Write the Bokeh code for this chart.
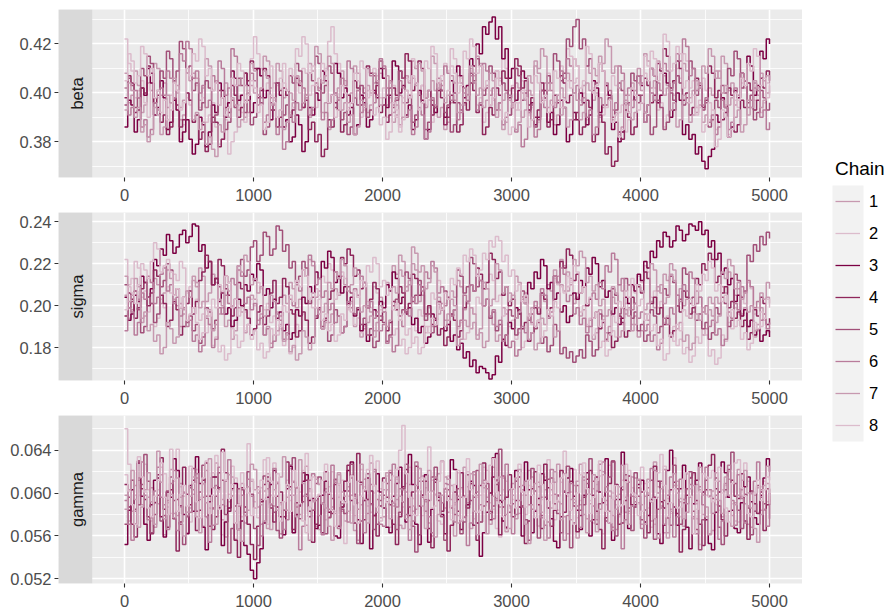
import math
from bokeh.plotting import figure
from bokeh.models import (Range1d, FixedTicker, PrintfTickFormatter, BoxAnnotation,
                          Label, Legend, LegendItem)
from bokeh.layouts import row, column
from bokeh.embed import file_html
from bokeh.resources import INLINE

# ---------------- data ----------------
# draws are recorded every 25 iterations, 0..5000
iterations = list(range(0, 5001, 25))
chain_labels = ["1", "2", "3", "4", "5", "6", "7", "8"]
chain_colors = ["#c799b0", "#dcbccc", "#7c0043", "#8f275b",
                "#a25079", "#b97c9b", "#c799b0", "#dcbccc"]
x_ticks = [0, 1000, 2000, 3000, 4000, 5000]
beta_ticks = [0.38, 0.40, 0.42]
sigma_ticks = [0.18, 0.20, 0.22, 0.24]
gamma_ticks = [0.052, 0.056, 0.060, 0.064]
param_names = ["beta", "sigma", "gamma"]

# beta and sigma draws are written in thousandths (408 -> 0.408)
beta_1 = [408,396,399,409,403,392,395,404,401,412,410,399,404,394,396,405,400,389,391,400,
          397,408,406,397,402,414,411,401,405,395,398,404,394,406,403,393,399,390,392,403,
          400,410,407,415,413,402,404,412,409,398,401,392,396,407,405,394,398,390,393,404,
          402,392,396,385,389,400,398,409,405,396,400,411,408,399,402,392,395,404,399,408,
          406,395,398,388,391,399,396,407,404,413,410,400,403,394,397,405,401,390,394,385,
          388,396,397,407,404,395,399,410,407,415,412,401,403,395,398,409,406,397,400,391,
          395,404,402,390,393,401,399,411,408,398,404,394,397,387,391,402,398,408,405,414,
          411,400,403,411,408,397,400,390,394,403,399,389,392,383,386,397,395,404,401,410,
          407,416,413,402,405,396,399,407,403,393,396,407,404,412,409,398,401,392,395,388,
          391,402,399,409,406,415,412,401,404,395,398,406,402,391,394,402,399,408,405,400,
          403]
beta_2 = [422,412,409,398,401,405,396,390,404,396,398,402,391,385,399,404,393,381,387,398,
          395,406,403,394,398,388,391,396,386,379,381,389,375,380,384,395,392,388,401,414,
          423,416,410,401,404,411,397,403,406,412,401,392,394,404,400,410,408,399,403,394,
          397,405,410,421,427,416,412,403,404,394,396,405,401,390,393,401,399,410,407,398,
          402,390,396,403,390,384,398,406,405,414,411,401,403,395,397,388,392,404,401,412,
          409,418,414,404,406,396,399,409,404,395,398,388,392,401,397,409,405,414,410,401,
          403,393,396,405,401,391,394,386,388,398,397,408,404,395,399,411,408,418,415,404,
          406,397,400,389,393,402,399,388,391,399,397,407,403,392,395,384,389,397,398,407,
          404,415,411,400,402,393,396,386,391,402,399,410,406,416,413,402,405,394,397,406,
          401,389,393,385,388,398,395,383,386,397,394,404,402,412,409,397,401,392,396,404,
          399]
beta_3 = [386,397,395,384,389,402,399,410,404,391,394,405,398,385,388,397,393,380,384,389,
          381,375,379,390,387,378,384,395,392,404,401,390,396,409,406,397,399,408,403,392,
          396,410,407,398,401,389,393,404,399,386,389,380,382,391,387,376,380,394,391,400,
          397,409,405,396,399,412,408,398,402,391,394,383,387,399,396,386,389,401,398,410,
          406,394,399,413,411,400,403,391,395,385,389,401,397,381,385,395,392,404,401,390,
          394,405,400,411,407,398,403,414,411,420,416,427,424,429,431,422,427,414,418,406,
          410,397,401,409,406,393,396,387,390,401,398,388,392,383,387,397,394,380,383,392,
          389,400,396,387,391,405,402,392,395,403,399,385,388,380,384,395,392,401,397,407,
          403,392,395,410,407,396,399,408,404,390,393,400,397,383,387,381,383,375,378,372,
          369,374,377,391,388,398,394,382,386,401,398,408,405,415,411,399,403,417,414,422,
          420]
beta_4 = [398,407,404,392,393,402,400,411,408,396,399,388,391,383,386,398,395,386,389,400,
          397,388,391,381,384,376,379,390,388,378,381,394,392,403,399,390,394,408,405,413,
          410,398,401,410,407,393,396,386,390,402,399,390,393,406,403,394,397,385,388,380,
          383,374,377,389,386,396,393,384,387,399,396,405,402,395,398,411,408,400,403,392,
          395,388,391,402,399,409,406,416,413,401,404,413,410,398,401,391,394,401,398,387,
          390,399,396,384,387,396,393,404,401,392,395,383,386,394,391,402,399,409,406,398,
          402,414,411,402,405,395,398,390,393,404,401,386,389,399,396,407,404,396,399,389,
          392,383,386,397,394,380,383,391,388,375,378,370,372,384,381,393,390,383,386,399,
          396,406,403,396,399,412,409,418,415,402,405,413,410,397,400,391,394,406,403,394,
          397,411,408,398,401,389,392,402,399,384,387,397,394,404,401,393,397,406,402,409,
          405]
beta_5 = [395,406,403,394,398,410,407,415,412,398,401,409,406,417,414,405,409,421,418,408,
          411,401,404,393,396,405,402,388,391,401,398,385,388,397,394,406,403,392,397,387,
          390,399,396,383,386,396,393,404,401,391,395,407,404,412,409,396,399,408,405,415,
          412,400,403,411,408,394,397,389,392,383,386,398,395,403,400,390,393,407,404,413,
          410,399,402,394,397,409,406,396,399,388,391,399,396,385,388,397,394,404,401,392,
          395,384,387,396,393,402,399,408,405,414,411,399,402,411,408,393,396,404,401,391,
          394,410,407,397,400,392,395,386,389,401,398,407,404,416,413,405,408,422,419,427,
          430,418,422,411,414,401,404,412,409,395,398,390,393,404,401,393,396,408,405,396,
          399,388,391,383,386,397,394,385,388,400,397,407,404,395,398,413,410,399,402,393,
          396,386,389,397,394,403,400,410,407,417,414,402,405,396,399,389,392,401,398,393,
          396]
beta_6 = [402,391,394,401,398,386,389,382,385,396,393,402,399,409,406,398,401,416,413,421,
          418,406,409,400,403,394,397,407,404,413,410,399,402,418,415,403,406,397,400,408,
          405,395,398,388,391,398,395,383,386,377,380,391,388,396,393,402,399,391,394,404,
          401,389,392,386,389,400,397,406,403,413,410,398,401,392,395,410,407,396,399,414,
          411,402,405,395,398,405,402,390,393,383,386,394,391,381,384,398,395,406,403,411,
          408,397,400,389,392,400,397,407,404,393,396,412,409,399,402,393,396,387,390,399,
          396,384,387,378,381,392,389,382,385,397,394,404,401,394,397,409,406,414,411,400,
          403,395,398,390,393,383,386,398,395,404,401,393,396,411,408,399,402,394,397,407,
          404,388,391,400,397,404,401,412,409,401,404,416,413,422,419,407,410,401,404,395,
          398,388,391,383,386,397,394,385,388,402,399,408,405,394,397,404,401,390,393,385,
          388]
beta_7 = [393,404,401,390,394,384,387,380,383,394,391,383,386,399,396,406,403,394,397,408,
          405,389,392,385,388,379,382,377,374,387,384,393,390,398,395,386,389,403,400,412,
          409,399,402,409,406,395,398,390,393,385,388,400,397,407,404,396,399,412,409,419,
          416,404,407,415,412,399,402,393,396,388,391,383,386,397,394,403,400,408,405,395,
          398,407,404,392,395,387,390,401,398,406,403,412,409,398,401,415,412,402,405,396,
          399,407,404,392,395,402,399,411,408,399,402,394,397,408,405,390,393,385,388,397,
          394,385,388,400,397,407,404,413,410,418,415,401,404,396,399,391,394,386,389,400,
          397,389,392,404,401,410,407,415,412,422,419,408,411,402,405,396,399,389,392,404,
          401,392,395,410,407,413,410,399,402,393,396,386,389,399,396,388,391,405,402,411,
          408,418,415,406,409,400,403,395,398,390,393,384,387,397,394,405,402,394,397,407,
          404]
beta_8 = [405,416,413,404,407,419,416,407,410,398,401,392,397,389,393,404,401,393,396,410,
          407,416,413,422,419,407,410,401,404,395,398,391,394,406,403,412,409,396,399,405,
          402,392,395,385,388,399,396,390,393,404,401,410,407,418,415,423,420,408,411,403,
          406,412,409,396,399,390,393,403,400,393,396,408,405,413,410,398,401,391,394,387,
          390,381,384,396,393,386,389,401,398,407,404,393,396,413,410,419,416,404,407,398,
          401,411,408,400,403,417,414,422,419,408,411,402,405,395,398,406,403,389,392,383,
          386,396,393,401,398,386,389,407,404,396,399,392,395,409,406,394,397,405,402,414,
          411,402,405,419,416,400,403,412,409,394,397,388,391,382,385,395,392,402,399,393,
          396,408,405,417,414,405,408,424,421,409,412,419,416,402,405,396,399,391,394,384,
          387,396,393,378,381,393,390,382,385,400,397,406,403,412,409,418,415,403,406,398,
          401]

sigma_1 = [205,194,198,207,203,192,195,204,201,213,210,201,206,217,213,203,200,190,196,207,
           204,212,209,218,214,202,206,215,211,196,199,190,193,184,188,199,197,187,191,205,
           203,193,196,186,190,182,186,197,195,205,201,211,208,199,203,217,214,222,219,204,
           207,197,201,192,196,208,205,214,210,199,202,190,194,185,189,200,197,188,192,204,
           201,211,208,219,215,224,221,209,212,220,217,202,205,195,199,190,193,204,201,193,
           196,207,204,212,209,198,201,189,192,184,187,180,183,194,191,183,186,199,196,206,
           203,214,211,203,206,196,199,190,193,205,202,210,207,217,214,222,219,207,210,201,
           204,195,198,190,193,184,187,198,195,187,190,204,201,210,207,196,199,191,195,185,
           188,196,193,202,199,209,206,215,212,220,217,205,208,200,203,194,197,207,204,186,
           189,198,195,204,201,209,206,216,213,205,208,196,199,190,193,185,188,199,196,204,
           201]
sigma_2 = [222,210,213,221,218,204,207,197,201,190,194,203,199,209,206,215,212,221,218,206,
           209,199,203,193,196,187,191,181,185,178,181,174,177,189,186,180,183,197,194,203,
           200,211,208,198,201,192,195,186,189,181,184,177,180,191,188,196,193,202,199,208,
           205,214,211,220,217,203,206,216,213,198,201,191,194,187,190,202,199,209,206,198,
           201,190,193,186,189,181,184,177,180,191,188,198,195,187,190,206,203,212,209,201,
           204,195,198,189,192,184,187,199,196,204,201,211,208,215,212,202,205,195,198,190,
           193,184,187,180,183,194,191,200,197,206,203,196,199,213,210,221,218,209,212,203,
           206,197,200,191,194,186,189,180,183,176,179,188,185,194,191,201,198,209,206,214,
           211,219,216,204,207,199,202,192,195,187,190,181,184,177,180,173,176,185,182,189,
           186,176,179,172,175,186,183,192,189,199,196,204,201,211,208,196,199,190,193,187,
           190]
sigma_3 = [204,193,196,205,202,214,211,204,208,222,219,227,224,234,231,225,228,234,236,230,
           233,239,238,226,229,218,221,210,213,202,206,196,199,190,193,203,200,210,207,215,
           212,220,217,205,208,199,203,194,197,188,191,184,187,198,195,204,201,209,206,216,
           213,221,218,226,223,211,214,206,209,201,204,195,198,188,191,183,186,198,195,202,
           199,210,207,216,213,201,204,196,199,191,194,187,190,182,185,196,193,201,198,188,
           191,183,186,179,182,175,178,171,174,168,171,170,168,165,167,176,173,184,181,192,
           189,199,196,204,201,211,208,216,213,222,219,208,211,203,206,197,200,192,195,206,
           203,212,209,218,215,223,220,209,212,204,207,196,199,191,194,204,201,210,207,215,
           212,221,218,226,223,231,228,235,233,228,231,238,236,231,234,239,238,236,240,234,
           236,228,231,222,225,215,218,210,213,202,205,195,198,190,193,186,189,183,186,188,
           185]
sigma_4 = [195,206,203,194,199,208,211,200,206,217,214,205,201,190,193,202,198,186,190,201,
           207,196,202,212,216,224,221,210,213,222,219,208,205,195,199,211,208,198,194,186,
           189,197,200,191,195,206,212,201,204,213,209,198,196,185,188,197,193,182,185,194,
           199,189,194,203,207,216,213,223,220,227,224,214,217,208,211,199,203,211,208,193,
           197,188,192,202,198,209,206,197,201,215,213,205,209,196,200,191,194,186,189,181,
           185,196,193,185,188,199,202,210,207,218,215,208,211,225,222,213,216,205,209,200,
           203,194,198,189,192,183,187,199,196,206,203,195,199,214,211,221,218,227,224,212,
           215,206,209,200,203,194,197,189,192,183,186,180,183,195,192,185,188,204,201,209,
           206,216,213,201,204,196,199,191,194,185,188,200,197,207,204,196,199,213,210,220,
           217,225,222,211,214,206,209,199,202,194,197,190,193,184,187,198,195,204,201,191,
           194]
sigma_5 = [210,199,202,207,198,187,190,204,201,192,196,209,212,220,217,205,208,199,204,192,
           195,188,191,182,185,199,197,189,193,209,206,214,211,200,203,219,222,214,217,228,
           231,221,224,235,233,224,227,238,236,226,229,218,221,211,214,221,218,201,204,195,
           198,190,193,183,186,198,195,187,190,209,206,196,199,191,194,186,189,180,183,195,
           192,183,186,200,203,195,198,216,213,202,205,212,209,193,196,187,190,202,199,207,
           204,195,198,217,214,206,209,223,220,209,212,200,203,194,197,188,191,183,186,198,
           195,186,189,207,204,193,196,189,192,182,185,178,181,191,188,177,180,175,178,173,
           176,179,175,186,183,176,179,196,193,184,187,208,205,196,199,213,210,194,197,188,
           191,183,186,198,195,187,190,208,205,214,211,200,203,218,215,201,204,193,196,189,
           192,184,187,199,196,204,201,190,193,215,212,204,207,224,221,229,226,233,229,235,
           232]
sigma_6 = [188,199,197,186,192,206,203,214,211,201,204,215,218,207,210,201,204,195,199,190,
           193,183,186,178,181,194,191,180,184,199,196,205,201,213,210,217,214,201,204,198,
           201,191,194,186,189,180,183,196,193,184,187,203,200,210,207,217,214,224,221,210,
           213,204,207,198,201,192,195,187,190,202,199,208,205,214,211,199,202,194,197,188,
           191,182,185,178,181,193,190,198,195,204,201,210,207,216,213,221,218,206,209,200,
           203,195,198,190,193,205,202,210,207,215,212,200,203,195,198,190,193,183,186,180,
           183,176,179,190,187,195,192,202,199,208,205,194,197,214,211,218,215,202,205,196,
           199,191,194,187,190,206,203,211,208,219,216,225,222,210,213,207,210,198,201,194,
           197,188,191,183,186,179,182,194,191,199,196,205,202,210,207,216,213,201,204,197,
           200,190,193,186,189,181,184,197,194,201,198,209,206,212,209,199,202,193,196,189,
           192]
sigma_7 = [214,202,205,213,209,194,197,188,191,183,186,177,180,192,189,182,185,201,198,207,
           204,214,211,199,202,195,198,188,191,203,200,210,207,200,203,219,216,224,221,210,
           213,206,209,195,198,205,202,188,191,183,186,178,181,174,177,188,185,179,182,199,
           196,189,192,211,208,216,213,222,219,207,210,218,215,197,200,192,195,185,188,200,
           197,190,193,209,206,217,214,207,210,228,225,216,219,208,211,219,216,196,199,190,
           193,203,200,181,184,193,190,199,196,186,189,211,208,200,203,220,217,206,209,202,
           205,194,197,204,201,184,187,179,182,194,191,198,195,185,188,210,207,216,213,222,
           219,226,223,211,214,207,210,200,203,195,198,209,206,185,188,198,195,188,191,210,
           207,198,201,220,217,207,210,201,204,215,212,189,192,183,186,179,182,196,193,199,
           196,204,201,192,195,216,213,222,219,208,211,203,206,197,200,188,191,206,203,211,
           208]
sigma_8 = [198,209,206,201,210,220,217,213,221,230,227,216,219,222,216,205,208,199,204,193,
           196,199,192,184,187,198,195,203,199,210,207,214,211,199,203,195,199,188,191,184,
           188,179,182,175,178,189,186,193,190,200,197,205,202,212,209,217,214,203,206,199,
           203,193,196,188,191,183,186,196,193,200,197,207,204,212,209,219,216,223,220,209,
           212,205,208,198,201,193,196,186,189,182,185,177,180,190,187,194,191,201,198,206,
           203,213,210,218,215,224,221,227,224,214,217,225,222,231,228,233,231,221,224,214,
           217,207,210,202,205,195,198,190,193,185,188,198,195,202,199,209,206,214,211,219,
           216,206,209,201,204,194,197,190,193,183,186,195,192,202,199,207,204,213,210,200,
           203,193,196,188,191,181,184,174,177,186,183,191,188,198,195,203,200,210,207,215,
           212,221,218,207,210,202,205,195,198,190,193,184,187,179,182,192,189,197,194,203,
           199]

# gamma draws are written in ten-thousandths (598 -> 0.0598)
gamma_1 = [598,574,583,607,612,589,571,596,605,568,590,617,561,593,622,581,579,609,601,563,
           586,599,614,577,569,621,597,585,628,603,575,559,592,615,557,588,609,572,584,611,
           603,587,571,602,618,566,588,610,562,584,596,623,611,579,580,597,625,604,593,569,
           566,591,604,578,587,612,619,583,574,606,598,565,556,589,613,594,589,620,602,577,
           578,603,621,588,594,570,567,601,608,583,585,614,616,592,572,560,599,618,630,586,
           582,607,560,579,605,624,591,567,617,598,573,609,596,571,624,593,587,614,564,588,
           609,576,581,603,598,621,615,584,569,596,603,573,586,610,627,590,578,562,594,607,
           558,589,612,576,590,604,575,621,620,593,597,568,566,599,606,582,583,615,614,591,
           571,597,600,574,629,606,588,563,563,585,607,611,592,569,618,596,576,608,603,580,
           587,562,565,594,611,578,596,613,579,591,622,603,590,571,568,598,605,584,584,609,
           599]
gamma_2 = [660,627,612,598,589,615,627,603,574,592,603,624,618,587,581,611,641,606,597,582,
           573,609,622,596,608,577,586,619,635,601,561,588,599,625,614,590,578,604,646,613,
           592,577,605,631,571,598,628,609,589,566,612,593,563,587,601,621,637,602,584,615,
           609,590,575,606,620,583,596,612,553,597,617,579,591,622,606,588,582,600,630,604,
           595,616,568,592,613,580,587,609,624,595,602,623,579,605,643,612,598,574,571,601,
           616,588,589,619,604,577,632,608,576,596,598,624,621,591,585,567,559,603,611,586,
           594,612,627,598,580,607,606,583,569,594,615,631,598,575,584,610,639,597,601,622,
           577,593,619,605,593,572,608,616,562,589,626,600,589,578,612,627,581,605,600,590,
           624,609,586,568,571,596,609,625,595,581,633,607,578,594,603,615,617,576,552,599,
           598,614,621,589,584,603,607,620,590,574,573,597,628,611,599,583,582,606,611,592,
           594]
gamma_3 = [552,584,603,571,628,597,571,556,589,612,614,578,559,601,596,632,621,588,580,562,
           607,583,634,609,568,547,592,615,615,586,551,573,586,604,609,566,574,551,543,528,
           520,535,548,572,596,608,621,587,578,561,604,625,563,580,589,611,617,593,595,567,
           570,598,611,582,584,560,558,587,602,621,629,597,575,553,593,614,548,579,618,601,
           586,568,563,597,609,624,592,573,636,608,571,552,598,617,554,585,613,596,580,562,
           597,631,622,594,566,578,589,611,607,572,541,563,582,600,615,637,593,574,568,589,
           604,621,587,560,629,603,563,583,595,618,612,586,576,555,549,578,601,614,623,597,
           584,566,598,619,560,575,615,601,591,632,572,556,608,594,638,612,567,588,589,608,
           612,573,579,594,596,562,553,586,621,640,587,570,604,626,568,548,590,612,628,601,
           575,553,547,582,601,629,619,596,584,567,563,591,606,615,592,577,571,598,614,632,
           620]
gamma_4 = [608,587,571,559,630,604,594,578,562,591,617,633,585,568,603,576,546,573,624,599,
           589,612,565,584,612,628,597,566,578,605,641,619,583,597,556,540,605,587,571,552,
           538,569,592,608,615,586,573,597,601,578,629,606,566,591,588,619,612,583,554,571,
           597,563,620,599,581,608,569,587,611,626,593,572,637,610,575,594,602,579,560,588,
           614,596,589,571,552,578,606,622,579,601,625,588,598,611,567,549,610,593,583,604,
           546,570,601,583,619,597,586,609,570,556,607,628,592,575,633,612,561,587,596,617,
           578,593,615,588,553,574,604,620,589,567,627,605,569,584,598,621,582,600,611,588,
           564,579,596,613,621,598,583,566,548,577,609,630,594,571,572,593,616,589,587,605,
           601,584,563,592,625,611,592,570,577,603,610,581,545,566,598,614,619,593,571,551,
           603,626,636,604,588,575,560,583,612,597,595,618,574,557,602,590,581,601,565,589,
           600]
gamma_5 = [571,596,612,585,589,608,636,611,563,580,598,574,579,602,615,593,594,571,552,578,
           605,623,583,601,626,597,569,586,597,619,612,580,544,567,588,604,603,582,620,599,
           567,551,594,616,611,589,582,565,558,584,607,626,633,605,576,592,599,578,584,609,
           615,590,562,577,595,613,608,585,581,602,627,599,553,574,602,618,590,566,571,593,
           598,609,619,591,566,582,604,627,587,569,545,561,611,594,593,615,624,600,578,556,
           603,586,580,604,562,573,617,593,596,621,573,588,609,583,588,608,641,616,567,582,
           590,611,606,587,575,556,623,602,558,579,596,613,614,590,581,563,602,625,549,572,
           607,584,589,609,632,611,571,590,596,574,615,629,560,580,603,617,586,565,619,597,
           575,558,598,612,557,585,611,593,590,570,626,604,571,591,604,620,583,566,547,575,
           612,597,595,614,568,552,603,622,638,609,584,567,599,586,561,583,607,596,590,604,
           576]
gamma_6 = [593,571,556,583,614,629,598,575,577,602,624,596,589,566,609,621,565,587,600,579,
           582,603,618,594,596,578,554,570,607,624,589,611,631,603,572,588,598,579,613,597,
           586,606,560,574,604,590,623,609,591,566,575,598,610,587,547,569,597,612,618,593,
           579,561,601,585,626,610,567,590,592,573,614,597,585,608,563,581,608,622,594,571,
           569,592,612,627,587,604,603,580,556,574,629,611,596,583,578,563,615,598,591,609,
           608,586,573,597,596,578,551,572,620,601,589,612,604,581,576,595,598,616,627,603,
           562,580,593,607,611,589,585,602,606,577,570,558,622,599,597,614,556,579,609,591,
           588,568,615,599,574,588,602,627,629,606,583,565,597,581,548,575,610,597,592,612,
           567,584,605,623,621,600,586,571,598,615,559,578,613,594,590,608,578,562,606,589,
           624,603,581,598,557,574,609,626,593,570,617,595,572,588,600,611,629,603,585,569,
           597]
gamma_7 = [585,603,621,594,568,587,603,619,592,571,639,610,576,591,599,577,614,596,560,582,
           597,615,578,563,609,591,632,605,571,588,594,612,617,597,583,566,555,579,606,627,
           622,600,589,574,567,590,603,584,615,634,584,603,598,578,631,609,570,556,592,613,
           608,590,586,569,556,581,617,601,597,583,572,595,611,627,594,572,628,607,582,598,
           603,619,576,591,615,597,592,576,566,588,607,623,588,567,621,602,559,580,598,615,
           613,594,591,572,574,596,606,618,583,561,627,605,562,584,597,611,615,593,580,567,
           598,614,622,601,571,553,589,609,610,582,556,573,603,620,592,575,618,599,575,594,
           611,627,580,563,599,617,564,585,617,601,602,579,585,606,626,596,571,588,596,613,
           589,571,613,595,576,558,604,622,558,583,618,600,595,576,582,604,607,590,624,598,
           578,561,602,619,593,581,615,598,569,589,598,612,621,600,586,567,554,580,607,625,
           612]
gamma_8 = [617,602,589,571,634,615,601,586,578,597,612,628,596,580,641,613,583,599,607,588,
           625,609,592,577,614,630,581,598,603,585,638,612,595,608,572,589,619,604,600,579,
           586,603,612,594,633,611,597,618,574,592,608,583,621,606,590,574,563,587,615,596,
           599,612,627,600,584,569,608,593,591,610,616,589,572,597,603,622,635,607,587,574,
           610,591,594,616,622,640,663,618,596,580,579,603,614,595,601,586,588,611,629,605,
           593,575,608,621,575,596,620,603,599,582,584,608,611,626,632,601,590,578,566,589,
           604,586,619,601,587,612,598,577,626,608,575,593,609,585,593,614,617,599,584,571,
           600,617,628,604,581,596,612,630,596,583,572,594,607,588,589,610,621,600,598,579,
           583,602,610,592,595,619,636,607,578,591,604,586,587,613,619,597,562,585,601,618,
           615,596,592,611,624,600,586,573,609,628,631,605,597,581,578,600,612,593,603,615,
           590]

# unit conversion only (thousandths / ten-thousandths -> parameter values)
beta_chains = [[v / 1000 for v in c] for c in
               (beta_1, beta_2, beta_3, beta_4, beta_5, beta_6, beta_7, beta_8)]
sigma_chains = [[v / 1000 for v in c] for c in
                (sigma_1, sigma_2, sigma_3, sigma_4, sigma_5, sigma_6, sigma_7, sigma_8)]
gamma_chains = [[v / 10000 for v in c] for c in
                (gamma_1, gamma_2, gamma_3, gamma_4, gamma_5, gamma_6, gamma_7, gamma_8)]

# ---------------- styling ----------------
FONT = "Liberation Sans"
X0, X1 = -511.6, 5255.8
STRIP_RIGHT = -250
STRIP_LABEL_X = -368
FRAME_W, FRAME_H = 744, 168
LEFT_BORDER = 58
LINE_W = 1.5


def panel(chains, name, y0, y1, majors, minors, fmt, top, bottom):
    p = figure(frame_width=FRAME_W, frame_height=FRAME_H,
               x_range=Range1d(X0, X1), y_range=Range1d(y0, y1),
               output_backend="svg", toolbar_location=None,
               min_border_left=LEFT_BORDER, min_border_right=0,
               min_border_top=top, min_border_bottom=bottom)
    p.background_fill_color = "#EBEBEB"
    p.border_fill_color = "white"
    p.outline_line_color = None

    p.xaxis.ticker = FixedTicker(ticks=x_ticks,
                                 minor_ticks=[t + 500 for t in [-1000] + x_ticks[:-1]])
    p.yaxis.ticker = FixedTicker(ticks=majors, minor_ticks=minors)
    p.xaxis.formatter = PrintfTickFormatter(format="%d")
    p.yaxis.formatter = PrintfTickFormatter(format=fmt)
    for ax in (p.xaxis[0], p.yaxis[0]):
        ax.axis_line_color = None
        ax.major_tick_line_color = "#333333"
        ax.major_tick_line_width = 1.1
        ax.major_tick_in = 0
        ax.major_tick_out = 4
        ax.minor_tick_line_color = None
        ax.major_label_text_font = FONT
        ax.major_label_text_font_size = "16.5px"
        ax.major_label_text_color = "#4D4D4D"
    p.xaxis.major_label_standoff = 7
    p.yaxis.major_label_standoff = 3

    for g in (p.xgrid[0], p.ygrid[0]):
        g.grid_line_color = "white"
        g.grid_line_width = 1.6
        g.minor_grid_line_color = "white"
        g.minor_grid_line_width = 0.8

    for vals, col in zip(chains, chain_colors):
        n = min(len(vals), len(iterations))
        p.step(iterations[:n], vals[:n], mode="after", line_color=col, line_width=LINE_W)

    p.add_layout(BoxAnnotation(right=STRIP_RIGHT, fill_color="#D9D9D9", fill_alpha=1.0,
                               line_color=None))
    p.add_layout(Label(x=STRIP_LABEL_X, y=(y0 + y1) / 2, text=name, angle=math.pi / 2,
                       text_align="center", text_baseline="middle",
                       text_font=FONT, text_font_size="16.5px", text_color="#1A1A1A"))
    return p


p1 = panel(beta_chains, param_names[0], 0.3654, 0.4341, beta_ticks,
           [0.37, 0.39, 0.41, 0.43], "%.2f", 9, 35)
p2 = panel(sigma_chains, param_names[1], 0.16427, 0.24444, sigma_ticks,
           [0.17, 0.19, 0.21, 0.23], "%.2f", 0, 35)
p3 = panel(gamma_chains, param_names[2], 0.05156, 0.06724, gamma_ticks,
           [0.054, 0.058, 0.062, 0.066], "%.3f", 0, 29)

# legend figure: its frame is its whole canvas, in pixel-like units
LEG_W, LEG_H = 82, 612
leg = figure(frame_width=LEG_W, frame_height=LEG_H,
             x_range=Range1d(0, LEG_W), y_range=Range1d(0, LEG_H),
             output_backend="svg", toolbar_location=None,
             x_axis_location=None, y_axis_location=None,
             min_border_left=0, min_border_right=0, min_border_top=0,
             min_border_bottom=0)
leg.background_fill_color = "white"
leg.border_fill_color = "white"
leg.outline_line_color = None
leg.grid.visible = False
leg.extra_x_ranges = {"hidden": Range1d(-10, -9)}

KEY_LEFT, KEY_RIGHT, KEY_BOTTOM, KEY_H = 30, 61, 171, 32
leg.add_layout(BoxAnnotation(left=KEY_LEFT, right=KEY_RIGHT, bottom=KEY_BOTTOM,
                             top=KEY_BOTTOM + KEY_H * len(chain_labels),
                             fill_color="#F2F2F2", fill_alpha=1.0, line_color=None,
                             level="underlay"))
items = []
for lab, vals, col in zip(chain_labels, beta_chains, chain_colors):
    n = min(len(vals), len(iterations))
    r = leg.line(iterations[:n], vals[:n], line_color=col, line_width=1.3,
                 x_range_name="hidden")
    items.append(LegendItem(label=lab, renderers=[r]))
legend = Legend(items=items, location=(KEY_LEFT + 3, KEY_BOTTOM), orientation="vertical",
                title="Chain", title_text_font=FONT, title_text_font_size="19px",
                title_text_color="black", title_text_font_style="normal",
                title_standoff=5,
                label_text_font=FONT, label_text_font_size="16.5px",
                label_text_color="black",
                glyph_width=25, glyph_height=KEY_H, label_height=KEY_H,
                label_standoff=9, spacing=0, padding=0, margin=0,
                border_line_color=None, background_fill_alpha=0)
leg.add_layout(legend, "center")

layout = row(column(p1, p2, p3), leg)
open("out.html", "w").write(file_html(layout, INLINE))
